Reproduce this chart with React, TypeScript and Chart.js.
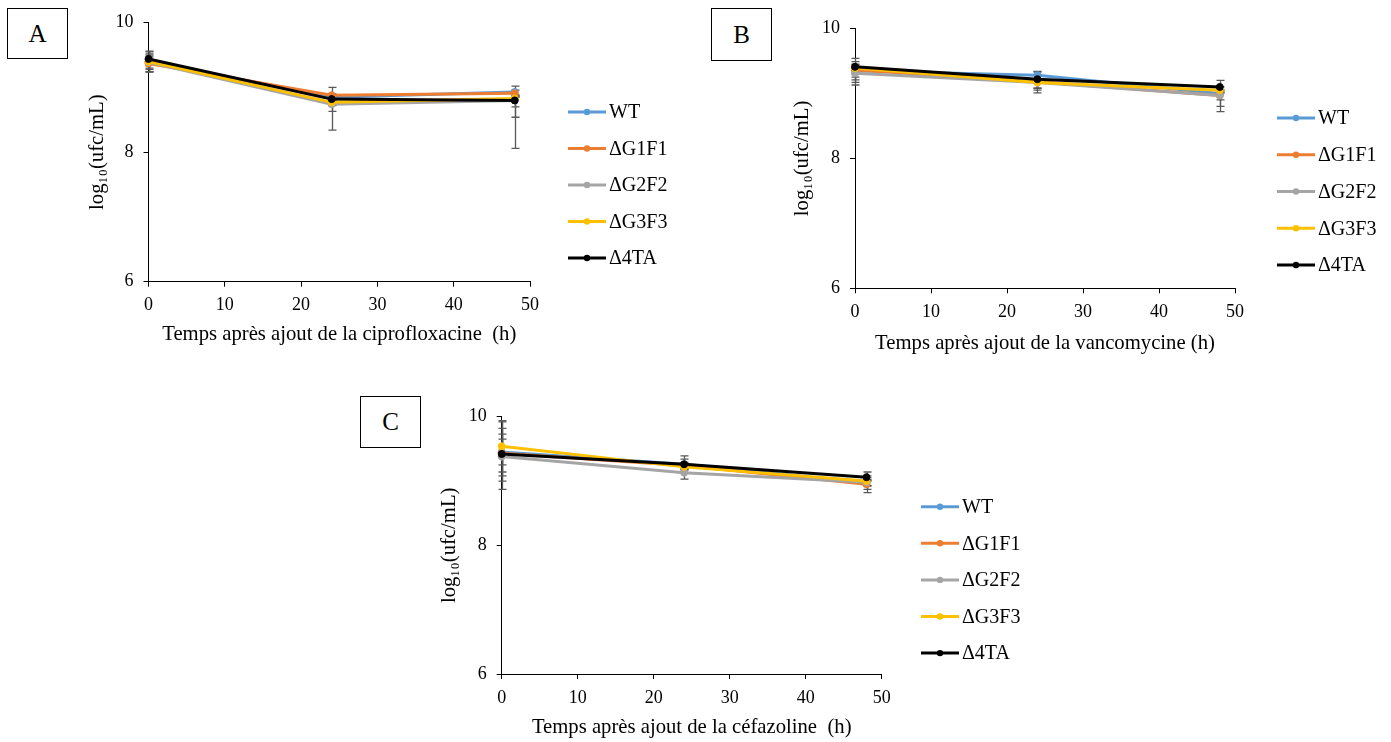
import React, { useEffect, useRef } from "react";
import { Chart, registerables } from "chart.js";

Chart.register(...registerables);

// ---------- data ----------
const TIMES_H = [0, 24, 48];
const SERIES = ["WT", "ΔG1F1", "ΔG2F2", "ΔG3F3", "Δ4TA"];
const COLORS = ["#5B9BD5", "#ED7D31", "#A5A5A5", "#FFC000", "#000000"];
const X_RANGE = [0, 50];
const X_STEP = 10;
const Y_RANGE = [6, 10];
const Y_STEP = 2;
const Y_TITLE = "log₁₀(ufc/mL)";

// Panel A – ciprofloxacine
const A_X_TITLE = "Temps après ajout de la ciprofloxacine  (h)";
const A_WT = [9.40, 8.85, 8.93];
const A_G1F1 = [9.37, 8.88, 8.91];
const A_G2F2 = [9.39, 8.74, 8.80];
const A_G3F3 = [9.40, 8.77, 8.83];
const A_4TA = [9.44, 8.82, 8.80];
const A_ERR_UP = [[0.12, 0.05, 0.09], [0.10, 0.12, 0.05], [0.16, 0.05, 0.05], [0.10, 0.05, 0.05], [0.12, 0.05, 0.05]];
const A_ERR_DN = [[0.12, 0.05, 0.05], [0.13, 0.08, 0.05], [0.15, 0.40, 0.74], [0.10, 0.05, 0.13], [0.20, 0.19, 0.26]];

// Panel B – vancomycine
const B_X_TITLE = "Temps après ajout de la vancomycine (h)";
const B_WT = [9.35, 9.28, 9.00];
const B_G1F1 = [9.36, 9.18, 8.97];
const B_G2F2 = [9.31, 9.17, 8.97];
const B_G3F3 = [9.39, 9.17, 9.05];
const B_4TA = [9.41, 9.22, 9.10];
const B_ERR_UP = [[0.10, 0.06, 0.05], [0.08, 0.05, 0.05], [0.10, 0.05, 0.05], [0.10, 0.05, 0.05], [0.13, 0.11, 0.10]];
const B_ERR_DN = [[0.10, 0.20, 0.10], [0.15, 0.10, 0.17], [0.18, 0.16, 0.25], [0.22, 0.12, 0.05], [0.10, 0.05, 0.05]];

// Panel C – céfazoline
const C_X_TITLE = "Temps après ajout de la céfazoline  (h)";
const C_WT = [9.45, 9.26, 8.97];
const C_G1F1 = [9.43, 9.24, 8.95];
const C_G2F2 = [9.38, 9.13, 8.98];
const C_G3F3 = [9.54, 9.22, 9.00];
const C_4TA = [9.42, 9.26, 9.06];
const C_ERR_UP = [[0.20, 0.08, 0.05], [0.30, 0.05, 0.05], [0.44, 0.05, 0.10], [0.40, 0.05, 0.05], [0.50, 0.13, 0.08]];
const C_ERR_DN = [[0.20, 0.05, 0.05], [0.43, 0.05, 0.08], [0.30, 0.10, 0.05], [0.40, 0.05, 0.18], [0.55, 0.05, 0.05]];

// ---------- styling / layout ----------
const FONT = "'Liberation Serif', 'Times New Roman', serif";
const TITLE_SIZE = 20.7;
const TITLE_LH = TITLE_SIZE * 1.2;
const TICK_SIZE = 18;
const LEGEND_SIZE = 20;

type Panel = {
  id: string;
  left: number; top: number; width: number; height: number;
  plot: { l: number; t: number; r: number; b: number };
  yTitleX: number; xTitleY: number;
  xTitle: string;
  values: number[][]; up: number[][]; dn: number[][];
  legend: { x: number; y: number; gap: number };
  box: { x: number; y: number; w: number; h: number };
};

const PANELS: Panel[] = [
  {
    id: "A", left: 0, top: 0, width: 700, height: 372,
    plot: { l: 148.5, t: 22.7, r: 530, b: 281.7 },
    yTitleX: 98, xTitleY: 335, xTitle: A_X_TITLE,
    values: [A_WT, A_G1F1, A_G2F2, A_G3F3, A_4TA], up: A_ERR_UP, dn: A_ERR_DN,
    legend: { x: 568, y: 112, gap: 36.5 },
    box: { x: 7, y: 8, w: 61, h: 51 },
  },
  {
    id: "B", left: 700, top: 0, width: 691, height: 372,
    plot: { l: 855, t: 28.5, r: 1235, b: 288.3 },
    yTitleX: 803, xTitleY: 344, xTitle: B_X_TITLE,
    values: [B_WT, B_G1F1, B_G2F2, B_G3F3, B_4TA], up: B_ERR_UP, dn: B_ERR_DN,
    legend: { x: 1277, y: 118, gap: 36.75 },
    box: { x: 711, y: 8, w: 61, h: 53 },
  },
  {
    id: "C", left: 350, top: 380, width: 700, height: 362,
    plot: { l: 501.7, t: 416.7, r: 881.7, b: 674 },
    yTitleX: 450, xTitleY: 728, xTitle: C_X_TITLE,
    values: [C_WT, C_G1F1, C_G2F2, C_G3F3, C_4TA], up: C_ERR_UP, dn: C_ERR_DN,
    legend: { x: 921, y: 506.7, gap: 36.6 },
    box: { x: 360, y: 396, w: 61, h: 52 },
  },
];

const errorBarPlugin = {
  id: "errorBars",
  beforeDatasetsDraw(chart: any) {
    const { ctx } = chart;
    const xs = chart.scales.x;
    const ys = chart.scales.y;
    ctx.save();
    ctx.strokeStyle = "#595959";
    ctx.lineWidth = 1.3;
    chart.data.datasets.forEach((ds: any) => {
      ds.data.forEach((pt: any, j: number) => {
        const px = Math.round(xs.getPixelForValue(pt.x)) + 0.5;
        const yTop = ys.getPixelForValue(pt.y + ds.errUp[j]);
        const yBot = ys.getPixelForValue(pt.y - ds.errDn[j]);
        ctx.beginPath();
        ctx.moveTo(px, yTop);
        ctx.lineTo(px, yBot);
        ctx.moveTo(px - 4, yTop);
        ctx.lineTo(px + 4, yTop);
        ctx.moveTo(px - 4, yBot);
        ctx.lineTo(px + 4, yBot);
        ctx.stroke();
      });
    });
    ctx.restore();
  },
};

const lineLegendPlugin = {
  id: "lineLegend",
  afterDraw(chart: any) {
    const cfg = chart.config.options.plugins.lineLegend;
    if (!cfg) return;
    const { ctx } = chart;
    ctx.save();
    const ordered = [...chart.data.datasets].sort((a: any, b: any) => a.legendIndex - b.legendIndex);
    ordered.forEach((ds: any, i: number) => {
      const y = cfg.y + i * cfg.gap;
      const x0 = cfg.x;
      const len = 38;
      ctx.strokeStyle = ds.borderColor;
      ctx.lineWidth = 3;
      ctx.beginPath();
      ctx.moveTo(x0, y);
      ctx.lineTo(x0 + len, y);
      ctx.stroke();
      ctx.fillStyle = ds.borderColor;
      ctx.beginPath();
      ctx.arc(x0 + len / 2, y, 3.2, 0, Math.PI * 2);
      ctx.fill();
      ctx.fillStyle = "#000";
      ctx.font = `${LEGEND_SIZE}px ${FONT}`;
      ctx.textBaseline = "middle";
      ctx.textAlign = "left";
      ctx.fillText(ds.label, x0 + len + 3, y + 1);
    });
    ctx.restore();
  },
};

function PanelChart({ p }: { p: Panel }) {
  const ref = useRef<HTMLCanvasElement | null>(null);
  useEffect(() => {
    if (!ref.current) return;
    const yScaleLeft = p.yTitleX - TITLE_LH / 2;
    const xScaleBottom = p.xTitleY + TITLE_LH / 2;
    const datasets = SERIES.map((name, i) => ({
      label: name,
      data: TIMES_H.map((t, j) => ({ x: t, y: p.values[i][j] })),
      borderColor: COLORS[i],
      backgroundColor: COLORS[i],
      borderWidth: 3,
      pointRadius: 3.5,
      pointBorderWidth: 1,
      pointBackgroundColor: COLORS[i],
      pointBorderColor: COLORS[i],
      tension: 0,
      clip: false as any,
      order: SERIES.length - i,
      legendIndex: i,
      errUp: p.up[i],
      errDn: p.dn[i],
    }));
    const chart = new Chart(ref.current, {
      type: "line",
      data: { datasets: datasets as any },
      options: {
        animation: false,
        responsive: false,
        maintainAspectRatio: false,
        events: [],
        layout: {
          padding: {
            left: yScaleLeft - p.left,
            top: p.plot.t - p.top,
            right: p.left + p.width - p.plot.r,
            bottom: p.top + p.height - xScaleBottom,
          },
        },
        plugins: {
          legend: { display: false },
          tooltip: { enabled: false },
          lineLegend: { x: p.legend.x - p.left, y: p.legend.y - p.top, gap: p.legend.gap },
        } as any,
        scales: {
          x: {
            type: "linear",
            min: X_RANGE[0],
            max: X_RANGE[1],
            ticks: {
              stepSize: X_STEP,
              color: "#000",
              padding: 8,
              font: { family: FONT, size: TICK_SIZE, lineHeight: 1.2 },
              maxRotation: 0,
            },
            grid: { display: true, drawOnChartArea: false, drawTicks: true, tickLength: 5, color: "#000", lineWidth: 1 },
            border: { display: true, color: "#000", width: 1 },
            title: {
              display: true,
              text: p.xTitle,
              color: "#000",
              padding: 0,
              font: { family: FONT, size: TITLE_SIZE, lineHeight: 1.2 },
            },
            afterFit: (s: any) => { s.height = xScaleBottom - p.plot.b; },
          },
          y: {
            type: "linear",
            min: Y_RANGE[0],
            max: Y_RANGE[1],
            ticks: {
              stepSize: Y_STEP,
              color: "#000",
              padding: 10,
              font: { family: FONT, size: TICK_SIZE, lineHeight: 1.2 },
            },
            grid: { display: true, drawOnChartArea: false, drawTicks: true, tickLength: 5, color: "#000", lineWidth: 1 },
            border: { display: true, color: "#000", width: 1 },
            title: {
              display: true,
              text: Y_TITLE,
              color: "#000",
              padding: 0,
              font: { family: FONT, size: TITLE_SIZE, lineHeight: 1.2 },
            },
            afterFit: (s: any) => { s.width = p.plot.l - yScaleLeft; },
          },
        },
      },
      plugins: [errorBarPlugin, lineLegendPlugin],
    });
    return () => chart.destroy();
  }, [p]);
  return (
    <>
      <canvas
        ref={ref}
        width={p.width}
        height={p.height}
        style={{ position: "absolute", left: p.left, top: p.top, width: p.width, height: p.height }}
      />
      <div
        style={{
          position: "absolute",
          left: p.box.x,
          top: p.box.y,
          width: p.box.w,
          height: p.box.h,
          boxSizing: "border-box",
          border: "1.3px solid #000",
          display: "flex",
          alignItems: "center",
          justifyContent: "center",
          fontFamily: FONT,
          fontSize: 25,
          color: "#000",
          background: "#fff",
        }}
      >
        {p.id}
      </div>
    </>
  );
}

export default function App() {
  return (
    <div style={{ position: "absolute", left: 0, top: 0, width: 1391, height: 742, background: "#fff", overflow: "hidden" }}>
      {PANELS.map((p) => (
        <PanelChart key={p.id} p={p} />
      ))}
    </div>
  );
}
